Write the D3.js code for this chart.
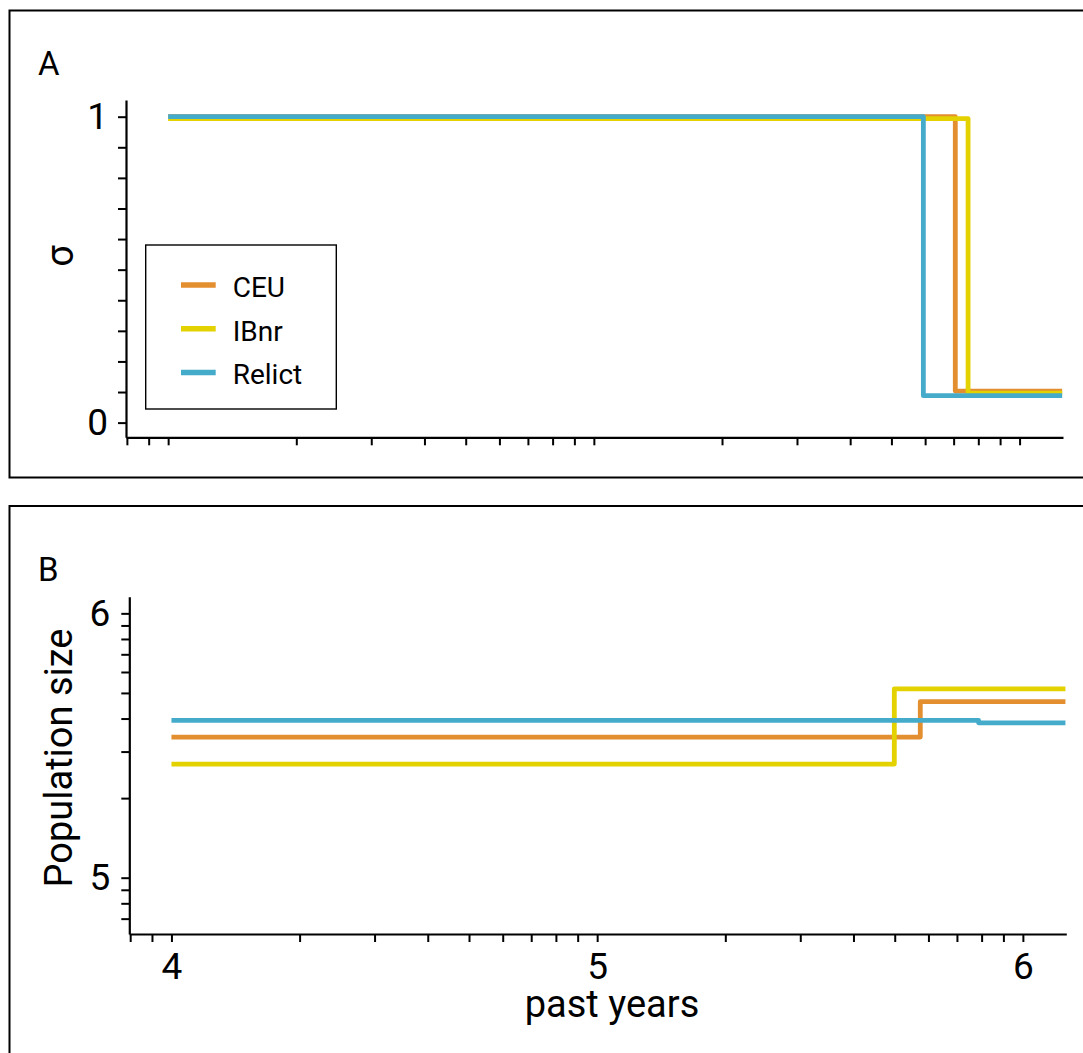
<!DOCTYPE html>
<html>
<head>
<meta charset="utf-8">
<script src="https://cdn.jsdelivr.net/npm/d3@7"></script>
<style>
  html, body { margin: 0; padding: 0; background: #fff; }
  svg { display: block; font-family: Roboto, "Noto Sans", sans-serif; }
</style>
</head>
<body>
<svg id="chart" width="1083" height="1053"></svg>
<script>
// ---- data (x values are log10 of past years) ----
const seriesNames = ["CEU", "IBnr", "Relict"];
const seriesColors = ["#E38E2F", "#E3D100", "#45ABCA"];

// Panel A: sigma
const ceuSigmaT    = [4, 5.849, 6.1];
const ceuSigma     = [1, 0.103, 0.103];
const ibnrSigmaT   = [4, 5.879, 6.1];
const ibnrSigma    = [0.994, 0.096, 0.096];
const relictSigmaT = [4, 5.774, 6.1];
const relictSigma  = [1, 0.088, 0.088];

// Panel B: log10 population size
const ceuNeT    = [4, 5.759, 6.1];
const ceuNe     = [5.532, 5.666, 5.666];
const ibnrNeT   = [4, 5.698, 6.1];
const ibnrNe    = [5.430, 5.714, 5.714];
const relictNeT = [4, 5.896, 6.1];
const relictNe  = [5.595, 5.586, 5.586];

const xDomain = [3.901, 6.102];
const sigmaDomain = [-0.048, 1.0546];
const neDomain = [4.787, 6.063];
const xMajor = [4, 5, 6];
const sigmaMajor = [0, 1];
const neMajor = [5, 6];

// ---- helpers ----
const svg = d3.select("#chart");
const zip = (t, v) => t.map((d, i) => [d, v[i]]);
const sigmaSeries = [zip(ceuSigmaT, ceuSigma), zip(ibnrSigmaT, ibnrSigma), zip(relictSigmaT, relictSigma)];
const neSeries = [zip(ceuNeT, ceuNe), zip(ibnrNeT, ibnrNe), zip(relictNeT, relictNe)];

function logMinorTicks(domain) {
  const out = [];
  for (let e = Math.floor(domain[0]) - 1; e <= Math.ceil(domain[1]); e++) {
    for (let k = 1; k <= 9; k++) {
      const v = Math.log10(k * Math.pow(10, e));
      if (v >= domain[0] - 1e-9 && v <= domain[1] + 1e-9) out.push(v);
    }
  }
  return out;
}
const isInt = v => Math.abs(v - Math.round(v)) < 1e-9;

function styleAxis(g, fs) {
  g.select(".domain").attr("stroke", "#000").attr("stroke-width", 2.2);
  g.selectAll(".tick line").attr("stroke", "#000").attr("stroke-width", 2);
  g.selectAll(".tick text").attr("font-size", fs).attr("fill", "#000")
    .attr("font-family", "Roboto, sans-serif");
}

// ---- panel borders ----
svg.append("rect").attr("x", 9.5).attr("y", 10.5).attr("width", 1090).attr("height", 467)
  .attr("fill", "none").attr("stroke", "#000").attr("stroke-width", 2);
svg.append("rect").attr("x", 9.5).attr("y", 506).attr("width", 1090).attr("height", 600)
  .attr("fill", "none").attr("stroke", "#000").attr("stroke-width", 2);

// ---- Panel A ----
const xA = d3.scaleLinear().domain(xDomain).range([126, 1063]);
const yA = d3.scaleLinear().domain(sigmaDomain).range([437.3, 100]);

const gA = svg.append("g");
const lineA = d3.line().x(d => xA(d[0])).y(d => yA(d[1])).curve(d3.curveStepAfter);
sigmaSeries.forEach((s, i) => {
  gA.append("path").datum(s).attr("d", lineA).attr("fill", "none")
    .attr("stroke", seriesColors[i]).attr("stroke-width", 4.8).attr("stroke-linejoin", "round");
});

const sigmaTicks = d3.range(0, 11).map(d => d / 10);
const axAy = gA.append("g").attr("transform", `translate(${xA.range()[0]},0)`)
  .call(d3.axisLeft(yA).tickValues(sigmaTicks).tickSize(8).tickSizeOuter(0).tickPadding(10)
    .tickFormat(d => sigmaMajor.some(m => Math.abs(m - d) < 1e-9) ? d3.format("d")(d) : ""));
styleAxis(axAy, 37);
const axAx = gA.append("g").attr("transform", `translate(0,${yA.range()[0]})`)
  .call(d3.axisBottom(xA).tickValues(logMinorTicks(xDomain)).tickSize(8).tickSizeOuter(0)
    .tickFormat(() => ""));
styleAxis(axAx, 37);

gA.append("text").attr("transform", "translate(73,256) rotate(-90)")
  .attr("text-anchor", "middle").attr("font-size", 38).text("σ");
svg.append("text").attr("x", 38).attr("y", 75).attr("font-size", 33).text("A");

// legend
const leg = gA.append("g");
leg.append("rect").attr("x", 145.7).attr("y", 245).attr("width", 190.6).attr("height", 164)
  .attr("fill", "#fff").attr("stroke", "#000").attr("stroke-width", 1.4);
seriesNames.forEach((n, i) => {
  const y = 285 + i * 43.8;
  leg.append("line").attr("x1", 181).attr("x2", 215.7).attr("y1", y).attr("y2", y)
    .attr("stroke", seriesColors[i]).attr("stroke-width", 5.5);
  leg.append("text").attr("x", 232.7).attr("y", y + 11.7).attr("font-size", 28).text(n);
});

// ---- Panel B ----
const xB = d3.scaleLinear().domain(xDomain).range([129.3, 1066.3]);
const yB = d3.scaleLinear().domain(neDomain).range([934, 596.7]);
const gB = svg.append("g");
const lineB = d3.line().x(d => xB(d[0])).y(d => yB(d[1])).curve(d3.curveStepAfter);
neSeries.forEach((s, i) => {
  gB.append("path").datum(s).attr("d", lineB).attr("fill", "none")
    .attr("stroke", seriesColors[i]).attr("stroke-width", 4.8).attr("stroke-linejoin", "round");
});

const axBy = gB.append("g").attr("transform", `translate(${xB.range()[0]},0)`)
  .call(d3.axisLeft(yB).tickValues(logMinorTicks(neDomain)).tickSize(8).tickSizeOuter(0).tickPadding(11)
    .tickFormat(d => isInt(d) && neMajor.includes(Math.round(d)) ? String(Math.round(d)) : ""));
styleAxis(axBy, 37);
const axBx = gB.append("g").attr("transform", `translate(0,${yB.range()[0]})`)
  .call(d3.axisBottom(xB).tickValues(logMinorTicks(xDomain)).tickSize(8).tickSizeOuter(0).tickPadding(11)
    .tickFormat(d => isInt(d) && xMajor.includes(Math.round(d)) ? String(Math.round(d)) : ""));
styleAxis(axBx, 37);

gB.append("text").attr("transform", "translate(71.7,758) rotate(-90)")
  .attr("text-anchor", "middle").attr("font-size", 38).text("Population size");
gB.append("text").attr("x", 612).attr("y", 1017).attr("text-anchor", "middle")
  .attr("font-size", 38).text("past years");
svg.append("text").attr("x", 38).attr("y", 581).attr("font-size", 33).text("B");
</script>
</body>
</html>
